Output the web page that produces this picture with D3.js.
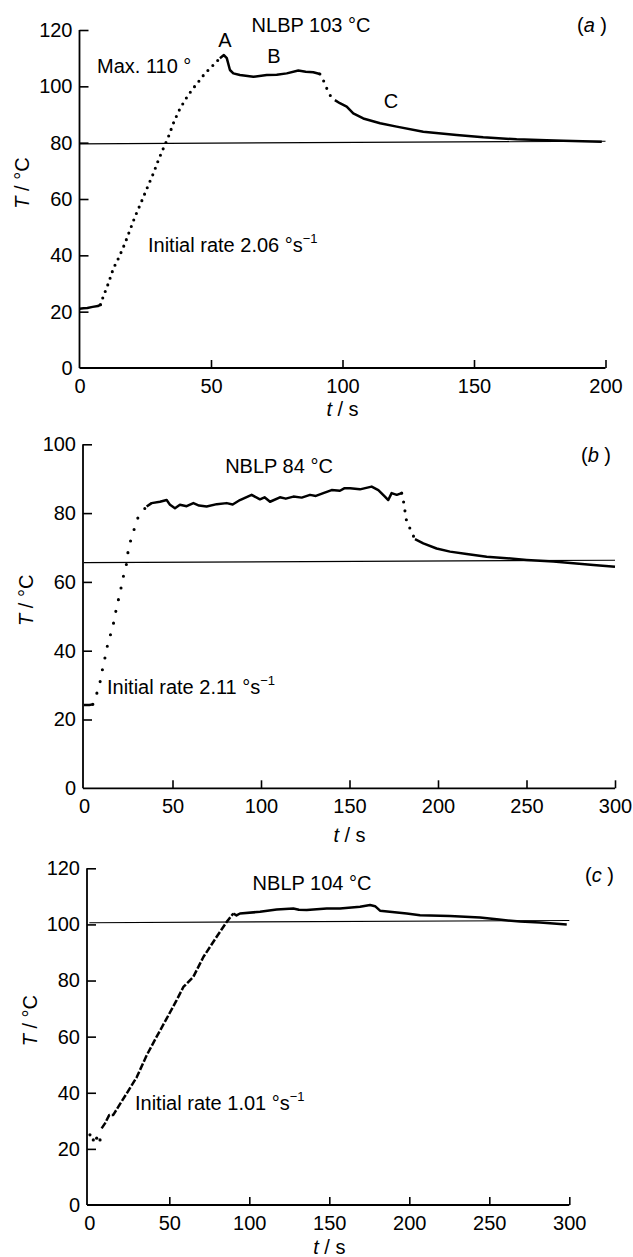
<!DOCTYPE html>
<html lang="en">
<head>
<meta charset="UTF-8">
<title>Temperature traces</title>
<script src="https://d3js.org/d3.v7.min.js"></script>
<style>
  body { margin: 0; background: #fff; }
  svg text { font-family: "Liberation Sans", Arial, sans-serif; fill: #000; }
  .axis line { stroke: #000; stroke-width: 1.6; }
  .axis text { font-size: 20px; }
  .frame { stroke: #000; stroke-width: 1.8; }
  .base { stroke: #000; stroke-width: 1.2; fill: none; }
  .trace { stroke: #000; stroke-width: 2.5; fill: none; stroke-linejoin: round; }
  .dots { stroke: #000; stroke-width: 3.1; fill: none; stroke-linecap: round; }
  .lbl { font-size: 20px; }
</style>
</head>
<body>
<div id="chart"></div>
<script>
// ---- panel (a) : NLBP 103 °C ----
const aTimeTicks = [0, 50, 100, 150, 200];
const aTempTicks = [0, 20, 40, 60, 80, 100, 120];
const aStart = [[0, 21.0], [1.5, 21.2], [3, 21.3], [5, 21.7], [7, 22.0], [8, 22.5]];
const aRise = [[8, 22.5], [9, 25.3], [11, 30.1], [12.9, 35.4], [15.1, 39.5], [17.3, 44.3], [19.2, 49], [21.1, 53.7],
  [23.3, 58.5], [26.2, 65], [28.1, 69.1], [30, 73.8], [31.9, 78], [33.8, 82.1], [35.7, 86.9], [37.6, 91],
  [40.1, 95.1], [42.7, 98.7], [45.2, 101.6], [47.7, 104.6], [50.3, 107], [53.4, 110]];
const aPlateau = [[53.4, 110], [54.9, 111.1], [56, 110], [57.2, 105.8], [58.5, 104.6], [61, 104], [66.1, 103.4],
  [71.2, 104], [75, 104.1], [78.8, 104.6], [83.2, 105.6], [86, 105.2], [88.9, 105], [91.4, 104.4]];
const aFall = [[91.4, 104.4], [92.7, 102.2], [94, 99.3], [95.2, 96.9], [97.1, 95.1]];
const aTail = [[97.1, 95.1], [99, 94], [101.6, 92.8], [104.1, 90.4], [107.9, 88.6], [114.3, 86.9], [120.6, 85.7],
  [130.7, 83.9], [143.4, 82.7], [153.5, 81.9], [166.2, 81.2], [177.6, 80.9], [184, 80.7], [198.6, 80.3]];
const aBase = [[0, 79.6], [200, 80.5]];

// ---- panel (b) : NBLP 84 °C ----
const bTimeTicks = [0, 50, 100, 150, 200, 250, 300];
const bTempTicks = [0, 20, 40, 60, 80, 100];
const bStart = [[0, 24.2], [3, 24.2], [5, 24.4]];
const bRise = [[5, 24.4], [6.2, 25.6], [7.5, 28.1], [9, 30.7], [10.9, 35.8], [12.2, 38.7], [13.2, 41.4],
  [14.3, 43.6], [15.3, 45.2], [16.6, 47.8], [18.5, 52.8], [20.3, 56.7], [22.2, 61.5], [24.1, 65.4], [25, 69.3],
  [26.9, 73.1], [28.8, 76], [30.7, 79], [32.6, 80.4], [35.4, 81.9]];
const bPlateau = [[35.4, 81.9], [38.2, 82.9], [42.9, 83.3], [46.7, 83.8], [48.6, 82.4], [51.4, 81.4], [54.2, 82.4],
  [58, 82.0], [61.8, 82.9], [65, 82.2], [69.3, 81.9], [75, 82.6], [80.6, 82.9], [84, 82.5], [88.1, 83.8],
  [94.7, 85.3], [99.4, 84], [102, 84.6], [105.1, 83.3], [110.7, 84.6], [114, 84.2], [118.3, 84.8], [123, 84.5],
  [127.7, 85.3], [131, 85.0], [135.2, 85.8], [139.9, 86.7], [144.6, 86.5], [147, 87.2], [150.3, 87.2],
  [155.9, 86.9], [162.5, 87.7], [166.3, 86.7], [170, 84.8], [171.9, 83.8], [173.8, 85.8], [176.7, 85.3],
  [179.5, 85.8]];
const bFall = [[179.5, 85.8], [180.4, 83.8], [181.4, 80.4], [182.3, 77.5], [183.8, 76], [185.2, 74.3], [187, 72.4]];
const bTail = [[187, 72.4], [191.7, 71.2], [199.2, 69.7], [206.8, 68.8], [216.2, 68.1], [227.5, 67.3],
  [238.8, 66.9], [250.1, 66.4], [265.2, 65.9], [276.5, 65.4], [287.8, 64.9], [300, 64.4]];
const bBase = [[0, 65.6], [300, 66.3]];

// ---- panel (c) : NBLP 104 °C ----
const cTimeTicks = [0, 50, 100, 150, 200, 250, 300];
const cTempTicks = [0, 20, 40, 60, 80, 100, 120];
const cStart = [[0.4, 25], [2.5, 23.2], [4.6, 23.8], [6.7, 23.2]];
const cRise = [[7.7, 27.3], [9.8, 29.1], [12.5, 32.1], [15, 32.1], [18.1, 35], [23.4, 39.8], [29.6, 45.5],
  [35.9, 53.4], [42.1, 60], [48.4, 66.5], [54.6, 73], [58.8, 77.7], [65, 81.3], [71.3, 88.4], [79.6, 95.6],
  [85.9, 100.9], [90, 103.9]];
const cPlateau = [[90, 103.9], [92, 103.2], [94.2, 103.9], [106.7, 104.5], [117.1, 105.3], [127.5, 105.7],
  [131, 105.2], [135.9, 105.1], [148.4, 105.7], [156.7, 105.7], [169.2, 106.3], [175.5, 106.9], [178.6, 106.5],
  [181.7, 104.9], [198.4, 103.9], [206.7, 103.3], [225.4, 103], [244.2, 102.5], [254.6, 101.8], [269.2, 101],
  [281.7, 100.7], [298.4, 100]];
const cBase = [[0, 100.6], [300, 101.4]];

const svg = d3.select("#chart").append("svg")
  .attr("width", 633)
  .attr("height", 1257);

const panels = [
  {
    tMax: 200, TMax: 120, xr: [79.5, 605.5], yr: [368, 30], axisX: 79.5,
    tt: aTimeTicks, Tt: aTempTicks, tLabelY: 416, TLabelX: 22,
    solid: [aStart, aPlateau, aTail], dotted: [[aRise, 7], [aFall, 8]], base: aBase,
    tag: "a", tagX: 577, tagY: 32,
    notes: [["NLBP 103 °C", 311, 32, "middle"], ["Max. 110 °", 97, 73, "start"],
      ["A", 225, 47, "middle"], ["B", 274, 63, "middle"], ["C", 391, 108, "middle"]],
    rate: ["Initial rate 2.06 °s", 148, 252]
  },
  {
    tMax: 300, TMax: 100, xr: [84, 615], yr: [788.3, 444.3], axisX: 83,
    tt: bTimeTicks, Tt: bTempTicks, tLabelY: 842, TLabelX: 26,
    solid: [bStart, bPlateau, bTail], dotted: [[bRise, 12], [bFall, 9]], base: bBase,
    tag: "b", tagX: 581, tagY: 462,
    notes: [["NBLP 84 °C", 279, 473, "middle"]],
    rate: ["Initial rate 2.11 °s", 107, 694]
  },
  {
    tMax: 300, TMax: 120, xr: [89.3, 569.3], yr: [1205, 868.3], axisX: 87,
    tt: cTimeTicks, Tt: cTempTicks, tLabelY: 1254, TLabelX: 30,
    solid: [cPlateau], dashed: cRise, scatter: cStart, base: cBase,
    tag: "c", tagX: 585, tagY: 882,
    notes: [["NBLP 104 °C", 312, 890, "middle"]],
    rate: ["Initial rate 1.01 °s", 135, 1110]
  }
];

panels.forEach(p => {
  const x = d3.scaleLinear().domain([0, p.tMax]).range(p.xr);
  const y = d3.scaleLinear().domain([0, p.TMax]).range(p.yr);
  const line = d3.line().x(d => x(d[0])).y(d => y(d[1]));
  const g = svg.append("g");

  // axes (ticks point inward)
  const xAxis = g.append("g").attr("class", "axis")
    .attr("transform", `translate(0,${p.yr[0]})`)
    .call(d3.axisBottom(x).tickValues(p.tt).tickSizeInner(-8).tickSizeOuter(0).tickPadding(11));
  xAxis.select(".domain").remove();
  xAxis.selectAll(".tick").filter(d => d === 0).select("line").remove();
  const yAxis = g.append("g").attr("class", "axis")
    .attr("transform", `translate(${p.axisX},0)`)
    .call(d3.axisLeft(y).tickValues(p.Tt).tickSizeInner(-9).tickSizeOuter(0).tickPadding(7));
  yAxis.select(".domain").remove();
  yAxis.selectAll(".tick").filter(d => d === 0).select("line").remove();

  g.append("line").attr("class", "frame")
    .attr("x1", p.axisX).attr("x2", x(p.tMax)).attr("y1", y(0)).attr("y2", y(0));
  g.append("line").attr("class", "frame")
    .attr("x1", p.axisX).attr("x2", p.axisX).attr("y1", y(0)).attr("y2", y(p.TMax));

  // reference line
  g.append("path").attr("class", "base").attr("d", line(p.base));

  // traces
  p.solid.forEach(seg => g.append("path").attr("class", "trace").attr("d", line(seg)));
  (p.dotted || []).forEach(([seg, gap]) =>
    g.append("path").attr("class", "dots").attr("stroke-dasharray", `0,${gap}`).attr("d", line(seg)));
  if (p.dashed) {
    g.append("path").attr("class", "trace").attr("stroke-width", 2.2)
      .attr("stroke-dasharray", "7,2").attr("d", line(p.dashed));
  }
  if (p.scatter) {
    g.selectAll(".pt").data(p.scatter).enter().append("circle")
      .attr("cx", d => x(d[0])).attr("cy", d => y(d[1])).attr("r", 1.6).attr("fill", "#000");
  }

  // axis titles
  const tl = g.append("text").attr("class", "lbl")
    .attr("x", (p.xr[0] + x(p.tMax)) / 2).attr("y", p.tLabelY).attr("text-anchor", "middle");
  tl.append("tspan").attr("font-style", "italic").text("t");
  tl.append("tspan").text(" / s");

  const yl = g.append("text").attr("class", "lbl")
    .attr("transform", `translate(${p.TLabelX},${(p.yr[0] + p.yr[1]) / 2 - 16}) rotate(-90)`)
    .attr("text-anchor", "middle").attr("dominant-baseline", "central");
  yl.append("tspan").attr("font-style", "italic").text("T");
  yl.append("tspan").text(" / °C");

  // panel tag
  const tg = g.append("text").attr("class", "lbl").attr("x", p.tagX).attr("y", p.tagY);
  tg.append("tspan").text("(");
  tg.append("tspan").attr("font-style", "italic").text(p.tag);
  tg.append("tspan").text(" )");

  // annotations
  p.notes.forEach(([s, nx, ny, anchor]) =>
    g.append("text").attr("class", "lbl").attr("x", nx).attr("y", ny).attr("text-anchor", anchor).text(s));

  const r = g.append("text").attr("class", "lbl").attr("x", p.rate[1]).attr("y", p.rate[2]);
  r.append("tspan").text(p.rate[0]);
  r.append("tspan").attr("font-size", 13).attr("dy", -9).text("−1");
});
</script>
</body>
</html>
